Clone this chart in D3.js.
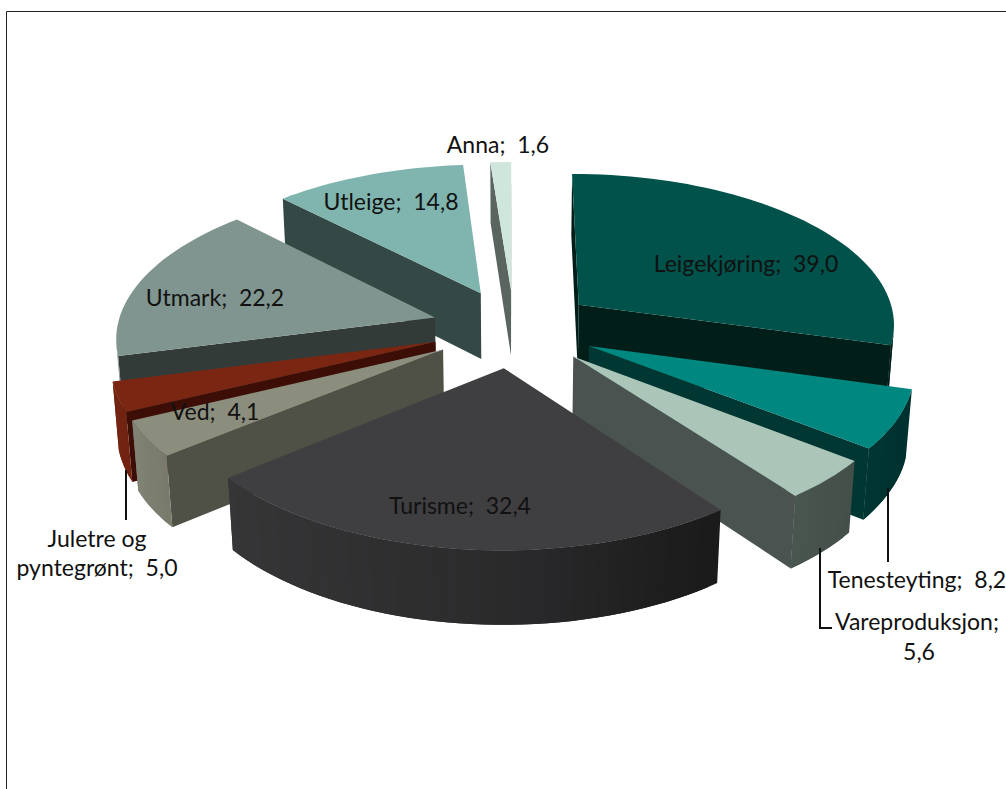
<!DOCTYPE html>
<html>
<head>
<meta charset="utf-8">
<script src="https://cdn.jsdelivr.net/npm/d3@7"></script>
<style>
    html, body { margin: 0; padding: 0; background: #fff; overflow: hidden; }
    text { font-family: Lato, "Open Sans", sans-serif; font-size: 23px; fill: #111; white-space: pre; }
</style>
</head>
<body>
<div id="container"></div>
<script>
const categories = ["Leigekjøring","Tenesteyting","Vareproduksjon","Turisme","Juletre og pyntegrønt","Ved","Utmark","Utleige","Anna"];
const values = [39.0,8.2,5.6,32.4,5.0,4.1,22.2,14.8,1.6];
const valueLabels = ["39,0","8,2","5,6","32,4","5,0","4,1","22,2","14,8","1,6"];
const topColors = ["#00524a","#00877f","#abc6b8","#3f3e40","#8b8d7d","#7a2613","#80958f","#7fb5ae","#cfe6dd"];
const wallColors = ["#021e18","#003733","#4a5350","#1b1b1b","#4f5046","#3c0e06","#333b38","#344846","#5a6560"];
const drawOrder = ["Anna","Utleige","Leigekjøring","Utmark","Tenesteyting","Ved","Vareproduksjon","Juletre og pyntegrønt","Turisme"];

const w = 1006;
const h = 789;

// camera fitted to the picture: ground plane in radius units, seen in perspective
const cx = 514;
const cy = 328;
const scaleX = 318;
const scaleY = 151;
const perspective = 0.116;
const depth = 68;
const depthShrink = 0.015;
const explode = 0.26;

// outer wall brightness relative to the top colour, by sideways direction of the wall
const wallShade = d3.scaleLinear().domain([-1,-0.75,0,0.55,1]).range([0.97,0.85,0.68,0.44,0.36]);

const project = (X,Y,bottom) => {
    const v = 1 + perspective * Y + (bottom ? depthShrink : 0);
    return [cx + scaleX * X / v, cy + (-scaleY * Y + (bottom ? depth : 0)) / v];
};

const line = d3.line();

const arcs = d3.pie().sort(null).startAngle(0).endAngle(2 * Math.PI)(values);

const svg = d3.select("#container")
    .append("svg")
    .attr("width",w)
    .attr("height",h);

svg.append("rect").attr("width",w).attr("height",h).attr("fill","#fff");

// visible faces have the opposite winding to the top face
const addWall = (g,pts,color,drawn) => {
    if (d3.polygonArea(pts) >= 0) {
        g.append("path")
            .attr("d",line(drawn || pts) + "Z")
            .attr("fill",color);
    }
};

drawOrder.forEach((name) => {
    const i = categories.indexOf(name);
    const a = arcs[i];
    const mid = (a.startAngle + a.endAngle) / 2;
    const tipX = explode * Math.sin(mid);
    const tipY = explode * Math.cos(mid);
    const steps = Math.max(2,Math.ceil((a.endAngle - a.startAngle) / (2 * Math.PI / 180)));
    const angles = d3.range(steps + 1).map((k) => a.startAngle + (a.endAngle - a.startAngle) * k / steps);
    const rim = angles.map((t) => [tipX + Math.sin(t),tipY + Math.cos(t)]);
    const last = rim[rim.length - 1];

    const g = svg.append("g").attr("class","slice");

    addWall(g,[project(tipX,tipY),project(rim[0][0],rim[0][1]),project(rim[0][0],rim[0][1],true),project(tipX,tipY,true)],wallColors[i]);
    addWall(g,[project(last[0],last[1]),project(tipX,tipY),project(tipX,tipY,true),project(last[0],last[1],true)],wallColors[i]);

    for (let k = 0; k < steps; k++) {
        const p = rim[k];
        const q = rim[k + 1];
        const r = rim[Math.min(k + 2,steps)];
        const f = wallShade(Math.sin((angles[k] + angles[k + 1]) / 2));
        const c = d3.rgb(topColors[i]);
        const color = d3.rgb(c.r * f,c.g * f,c.b * f).formatHex();
        // each strip runs under the next one so no seams show
        addWall(g,
            [project(p[0],p[1]),project(q[0],q[1]),project(q[0],q[1],true),project(p[0],p[1],true)],
            color,
            [project(p[0],p[1]),project(q[0],q[1]),project(r[0],r[1]),project(r[0],r[1],true),project(q[0],q[1],true),project(p[0],p[1],true)]);
    }

    const top = [project(tipX,tipY)].concat(rim.map((p) => project(p[0],p[1])));
    g.append("path")
        .attr("d",line(top) + "Z")
        .attr("fill",topColors[i]);
});

// leader lines
const leaders = [
    [[888,488],[888,562]],
    [[820,548],[820,628],[832,628]],
    [[126,470],[126,520]]
];
svg.selectAll("path.leader")
    .data(leaders)
    .enter()
    .append("path")
    .attr("class","leader")
    .attr("d",(d) => line(d))
    .attr("fill","none")
    .attr("stroke","#111")
    .attr("stroke-width",2);

// label text, broken where the original breaks it; centre x and centre y of each line
const labelLines = [
    {x:746,y:264,t:"Leigekjøring;  " + valueLabels[0]},
    {x:917,y:580,t:"Tenesteyting;  " + valueLabels[1]},
    {x:917,y:622,t:"Vareproduksjon;"},
    {x:919,y:652,t:valueLabels[2]},
    {x:460,y:506,t:"Turisme;  " + valueLabels[3]},
    {x:97,y:539,t:"Juletre og"},
    {x:97,y:568,t:"pyntegrønt;  " + valueLabels[4]},
    {x:215,y:412,t:"Ved;  " + valueLabels[5]},
    {x:215,y:298,t:"Utmark;  " + valueLabels[6]},
    {x:391,y:202,t:"Utleige;  " + valueLabels[7]},
    {x:498,y:145,t:"Anna;  " + valueLabels[8]}
];
svg.selectAll("text.label")
    .data(labelLines)
    .enter()
    .append("text")
    .attr("class","label")
    .attr("x",(d) => d.x)
    .attr("y",(d) => d.y)
    .attr("dy","0.35em")
    .attr("text-anchor","middle")
    .text((d) => d.t);

// chart frame
svg.append("path")
    .attr("d",line([[6.5,h],[6.5,11.5],[w,11.5]]))
    .attr("fill","none")
    .attr("stroke","#222")
    .attr("stroke-width",1);
</script>
</body>
</html>
